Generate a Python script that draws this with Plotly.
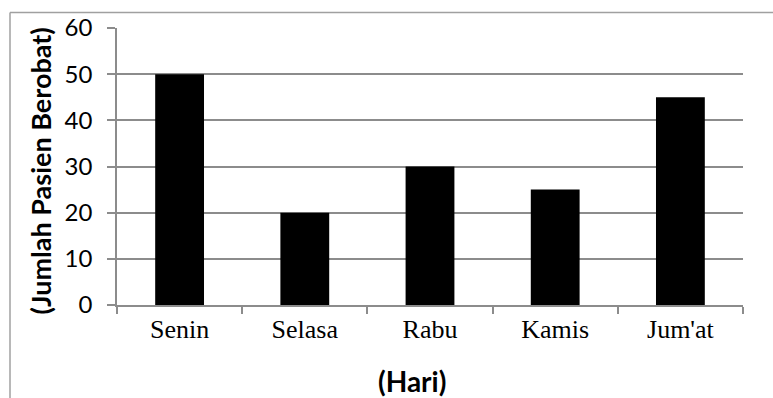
import plotly.graph_objects as go

# Jumlah pasien berobat per hari
hari = ["Senin", "Selasa", "Rabu", "Kamis", "Jum'at"]
jumlah_pasien = [50, 20, 30, 25, 45]
y_ticks = [0, 10, 20, 30, 40, 50, 60]

W, H = 773, 398
L, R, T, B = 117, 30, 21, 93
pw, ph = W - L - R, H - T - B

def px_x(x):
    return (x - L) / pw

def px_y(y):
    return (H - B - y) / ph

fig = go.Figure(go.Bar(
    x=hari, y=jumlah_pasien,
    marker=dict(color="black", line=dict(width=0)),
    width=0.39,
))

grid = "#8c8c8c"
fig.update_layout(
    width=W, height=H,
    margin=dict(l=L, r=R, t=T, b=B),
    paper_bgcolor="white", plot_bgcolor="white",
    showlegend=False,
    xaxis=dict(
        type="category", tickson="boundaries",
        ticks="outside", ticklen=7, tickcolor=grid, tickwidth=1.5,
        showline=True, linecolor=grid, linewidth=1.5,
        showgrid=False,
        tickfont=dict(family="Liberation Serif", size=26, color="black"),
        range=[-0.5, 4.5],
    ),
    yaxis=dict(
        range=[0, 60], tickvals=y_ticks,
        ticks="outside", ticklen=8, tickcolor=grid, tickwidth=1.5,
        showline=True, linecolor=grid, linewidth=1.5,
        showgrid=True, gridcolor=grid, gridwidth=1.5,
        tickfont=dict(family="Lato", size=24, color="black"),
        ticklabelstandoff=10,
        zeroline=False,
    ),
    annotations=[
        dict(text="<b>(Jumlah Pasien Berobat)</b>", textangle=-90,
             x=px_x(40), y=px_y(168), xref="paper", yref="paper",
             showarrow=False, xanchor="center", yanchor="middle",
             font=dict(family="Lato", size=27, color="black")),
        dict(text="<b>(Hari)</b>",
             x=px_x(412), y=px_y(383), xref="paper", yref="paper",
             showarrow=False, xanchor="center", yanchor="middle",
             font=dict(family="Lato", size=28, color="black")),
    ],
    shapes=[
        dict(type="line", xref="paper", yref="paper",
             x0=px_x(10), x1=px_x(W + 5), y0=px_y(5), y1=px_y(5),
             line=dict(color="#a0a0a0", width=1.5)),
        dict(type="line", xref="paper", yref="paper",
             x0=px_x(10), x1=px_x(10), y0=px_y(5), y1=px_y(H + 5),
             line=dict(color="#a0a0a0", width=1.5)),
    ],
)

fig.write_html("out.html")
